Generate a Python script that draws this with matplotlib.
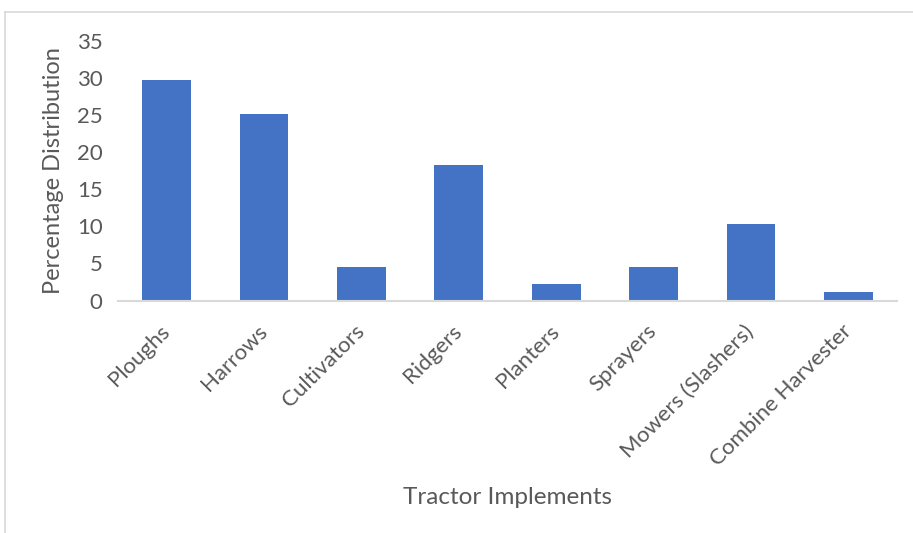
import matplotlib
matplotlib.use("Agg")
import matplotlib.pyplot as plt
from matplotlib.lines import Line2D

categories = ["Ploughs", "Harrows", "Cultivators", "Ridgers", "Planters",
              "Sprayers", "Mowers (Slashers)", "Combine Harvester"]
values = [29.7, 25.2, 4.5, 18.3, 2.2, 4.5, 10.3, 1.1]
y_ticks = [0, 5, 10, 15, 20, 25, 30, 35]

text_color = "#595959"
bar_color = "#4472C4"
line_color = "#D9D9D9"

plt.rcParams["font.family"] = ["Lato", "DejaVu Sans"]

fig = plt.figure(figsize=(9.13, 5.33), dpi=100)
ax = fig.add_axes([0.1292, 0.4362, 0.8533, 0.4869])

x = range(len(categories))
ax.bar(x, values, width=0.5, color=bar_color, zorder=2)

ax.set_xlim(-0.5, len(categories) - 0.5)
ax.set_ylim(0, 35)
ax.set_yticks(y_ticks)
ax.set_yticklabels([str(t) for t in y_ticks], fontsize=16, color=text_color)
ax.set_xticks(list(x))
ax.set_xticklabels(categories, fontsize=16, color=text_color,
                   rotation=45, ha="right", va="center", rotation_mode="anchor")

ax.tick_params(axis="y", length=0, pad=11)
ax.tick_params(axis="x", length=0, pad=20)

for side in ("top", "right", "left"):
    ax.spines[side].set_visible(False)
ax.spines["bottom"].set_color(line_color)
ax.spines["bottom"].set_linewidth(1.5)

ax.set_ylabel("Percentage Distribution", fontsize=17, color=text_color, labelpad=9)
ax.set_xlabel("Tractor Implements", fontsize=17.5, color=text_color, labelpad=12)

# chart area border (top and left edges)
W, H = 913, 533
fig.add_artist(Line2D([5 / W, 1.0], [1 - 12 / H, 1 - 12 / H],
                      color=line_color, linewidth=1.2, transform=fig.transFigure))
fig.add_artist(Line2D([5 / W, 5 / W], [0.0, 1 - 12 / H],
                      color=line_color, linewidth=1.2, transform=fig.transFigure))

fig.savefig("out.png", dpi=100, facecolor="white")
